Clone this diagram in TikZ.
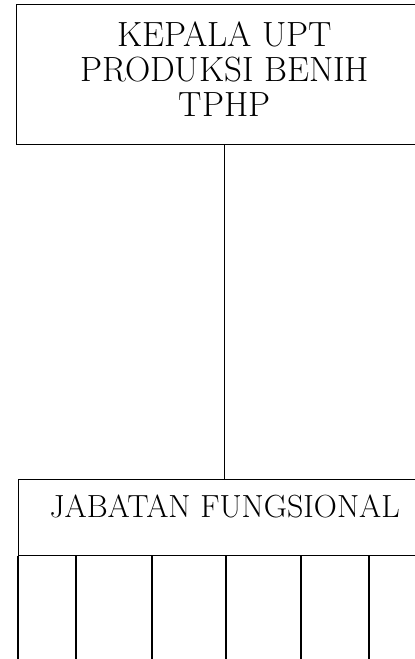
\documentclass[tikz,border=0pt]{standalone}
\begin{document}
\begin{tikzpicture}[x=1pt,y=-1pt,line width=1.3pt,
  unitbox/.style={draw,anchor=north west,inner sep=0pt,align=center}]
\useasboundingbox (0,0) rectangle (415,659);

\node[unitbox,minimum width=416pt,minimum height=140pt,
  font=\fontsize{35}{35}\selectfont,text depth=12pt] (kepala) at (16,4)
  {KEPALA UPT\\PRODUKSI BENIH\\TPHP};

\node[unitbox,minimum width=412pt,minimum height=76pt,
  font=\fontsize{32}{36}\selectfont,text height=11pt,text depth=11pt]
  (jabatan) at (18,479) {JABATAN FUNGSIONAL};

\draw[line width=1.1pt] (kepala.south) -- (jabatan.north);

\draw (jabatan.south west) -- ++(0,104);
\foreach \dx in {58,134,208,283,351}
  \draw[line width=1.1pt] ([xshift=\dx pt]jabatan.south west) -- ++(0,104);
\end{tikzpicture}
\end{document}
